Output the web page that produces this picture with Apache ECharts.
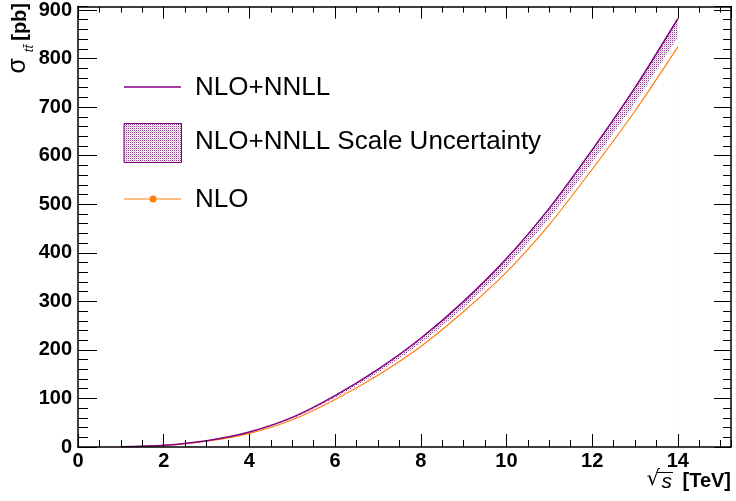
<!DOCTYPE html>
<html>
<head>
<meta charset="utf-8">
<script src="https://cdn.jsdelivr.net/npm/echarts@6/dist/echarts.min.js"></script>
<style>
  html, body { margin: 0; padding: 0; background: #fff; }
  #chart { width: 736px; height: 501px; }
</style>
</head>
<body>
<div id="chart"></div>
<script>
// Top-quark pair production cross section versus collider energy
const sqrtS = [1, 2, 3, 4, 5, 6, 7, 8, 9, 10, 11, 12, 13, 14];
const nloNnll = [0.3, 3.5, 13, 31, 61, 106, 160, 224, 300, 388, 492, 612, 740, 882];
const nloNnllLow = [0.3, 3.3, 12.4, 29.6, 58.5, 101.5, 153, 214, 287, 371, 471, 586, 709, 845];
const nlo = [0.3, 3.2, 12, 28, 56, 98, 148, 207, 279, 360, 458, 572, 692, 824];

const xTicks = { min: 0, max: 15.24, major: 2, minor: 0.5 };
const yTicks = { min: 0, max: 907, major: 100, minor: 20 };

const PURPLE = '#800080';
const ORANGE = '#ff7f0e';
const FONT = '"Liberation Sans", Arial, Helvetica, sans-serif';

// dotted fill used for the scale-uncertainty band
function dotPattern() {
  const c = document.createElement('canvas');
  c.width = 2; c.height = 2;
  const g = c.getContext('2d');
  g.fillStyle = '#ffffff';
  g.fillRect(0, 0, 2, 2);
  g.fillStyle = '#8e3a8e';
  g.fillRect(0, 0, 1, 1);
  g.fillStyle = '#e4c6e4';
  g.fillRect(1, 1, 1, 1);
  return c;
}
const pattern = { image: dotPattern(), repeat: 'repeat' };

const pairs = (ys) => sqrtS.map((x, i) => [x, ys[i]]);
const SMOOTH = 0.25;

function xAxisDef(pos, step, len, labels, line) {
  return {
    type: 'value', position: pos, min: xTicks.min, max: xTicks.max, interval: step, z: 10,
    axisLine: { show: line, onZero: false, lineStyle: { color: '#000', width: 1.5 } },
    axisTick: { show: true, inside: true, length: len, lineStyle: { color: '#000', width: 1 } },
    axisLabel: labels ? {
      show: true, margin: 4, color: '#000', fontFamily: FONT, fontWeight: 'bold', fontSize: 20,
      showMaxLabel: false
    } : { show: false },
    splitLine: { show: false }
  };
}
function yAxisDef(pos, step, len, labels, line) {
  return {
    type: 'value', position: pos, min: yTicks.min, max: yTicks.max, interval: step, z: 10,
    axisLine: { show: line, onZero: false, lineStyle: { color: '#000', width: 1.5 } },
    axisTick: { show: true, inside: true, length: len, lineStyle: { color: '#000', width: 1 } },
    axisLabel: labels ? {
      show: true, margin: 6, color: '#000', fontFamily: FONT, fontWeight: 'bold', fontSize: 20,
      showMaxLabel: false, padding: [4, 0, 0, 0]
    } : { show: false },
    splitLine: { show: false }
  };
}

const chart = echarts.init(document.getElementById('chart'), null, { renderer: 'canvas' });

chart.setOption({
  animation: false,
  backgroundColor: '#fff',
  grid: { left: 78, right: 5, top: 3, bottom: 54, containLabel: false },
  xAxis: [
    xAxisDef('bottom', xTicks.major, 13, true, true),
    xAxisDef('bottom', xTicks.minor, 7, false, false),
    xAxisDef('top', xTicks.major, 12, false, true),
    xAxisDef('top', xTicks.minor, 6, false, false)
  ],
  yAxis: [
    yAxisDef('left', yTicks.major, 19, true, true),
    yAxisDef('left', yTicks.minor, 10, false, false),
    yAxisDef('right', yTicks.major, 17, false, true),
    yAxisDef('right', yTicks.minor, 8, false, false)
  ],
  series: [
    // scale band: dotted fill under the upper edge, blanked below the lower edge
    {
      name: 'NLO+NNLL Scale Uncertainty', type: 'line', data: pairs(nloNnll),
      smooth: SMOOTH, symbol: 'none', lineStyle: { opacity: 0 },
      areaStyle: { color: pattern, opacity: 1, origin: 'start' }, silent: true, z: 1
    },
    {
      name: 'band-low', type: 'line', data: pairs(nloNnllLow),
      smooth: SMOOTH, symbol: 'none', lineStyle: { opacity: 0 },
      areaStyle: { color: '#ffffff', opacity: 1, origin: 'start' }, silent: true, z: 2
    },
    {
      name: 'NLO', type: 'line', data: pairs(nlo), smooth: SMOOTH,
      symbol: 'circle', showSymbol: false, symbolSize: 7,
      lineStyle: { color: ORANGE, width: 1.2 }, itemStyle: { color: ORANGE }, z: 5
    },
    {
      name: 'NLO+NNLL', type: 'line', data: pairs(nloNnll), smooth: SMOOTH,
      symbol: 'none', lineStyle: { color: PURPLE, width: 1.5 }, z: 6
    }
  ],
  graphic: [
    // legend
    { type: 'line', shape: { x1: 124, y1: 87, x2: 181, y2: 87 }, style: { stroke: PURPLE, lineWidth: 1.5 } },
    { type: 'text', x: 195, y: 88, style: { text: 'NLO+NNLL', font: '26px ' + FONT, fill: '#000', textVerticalAlign: 'middle' } },
    { type: 'rect', shape: { x: 124, y: 123.5, width: 57.5, height: 39 }, style: { fill: pattern, stroke: PURPLE, lineWidth: 1 } },
    { type: 'text', x: 195, y: 142, style: { text: 'NLO+NNLL Scale Uncertainty', font: '26px ' + FONT, fill: '#000', textVerticalAlign: 'middle' } },
    { type: 'line', shape: { x1: 124, y1: 199, x2: 181, y2: 199 }, style: { stroke: ORANGE, lineWidth: 1.2 } },
    { type: 'circle', shape: { cx: 153, cy: 199, r: 3.5 }, style: { fill: ORANGE } },
    { type: 'text', x: 195, y: 200, style: { text: 'NLO', font: '26px ' + FONT, fill: '#000', textVerticalAlign: 'middle' } },
    // y-axis title, rotated to read bottom-to-top
    {
      type: 'group', x: 30, y: 3, rotation: Math.PI / 2,
      children: [
        { type: 'text', x: 0, y: 0, style: { text: '[pb]', font: 'bold 20px ' + FONT, fill: '#000', textAlign: 'right', textVerticalAlign: 'bottom' } },
        { type: 'text', x: -42, y: 6, style: { text: 'tt̄', font: 'italic 13px ' + FONT, fill: '#000', textAlign: 'right', textVerticalAlign: 'bottom' } },
        { type: 'text', x: -55, y: 1, style: { text: 'σ', font: '25px ' + FONT, fill: '#000', textAlign: 'right', textVerticalAlign: 'bottom' } }
      ]
    },
    // x-axis title
    { type: 'text', x: 731, y: 481, style: { text: '[TeV]', font: 'bold 20px ' + FONT, fill: '#000', textAlign: 'right', textVerticalAlign: 'middle' } },
    { type: 'text', x: 672, y: 482, style: { text: 's', font: 'italic 21px ' + FONT, fill: '#000', textAlign: 'right', textVerticalAlign: 'middle' } },
    { type: 'text', x: 660, y: 480, style: { text: '√', font: '21px "DejaVu Sans", ' + FONT, fill: '#000', textAlign: 'right', textVerticalAlign: 'middle' } },
    { type: 'line', shape: { x1: 657, y1: 472.5, x2: 673, y2: 472.5 }, style: { stroke: '#000', lineWidth: 1 } }
  ]
});
</script>
</body>
</html>
